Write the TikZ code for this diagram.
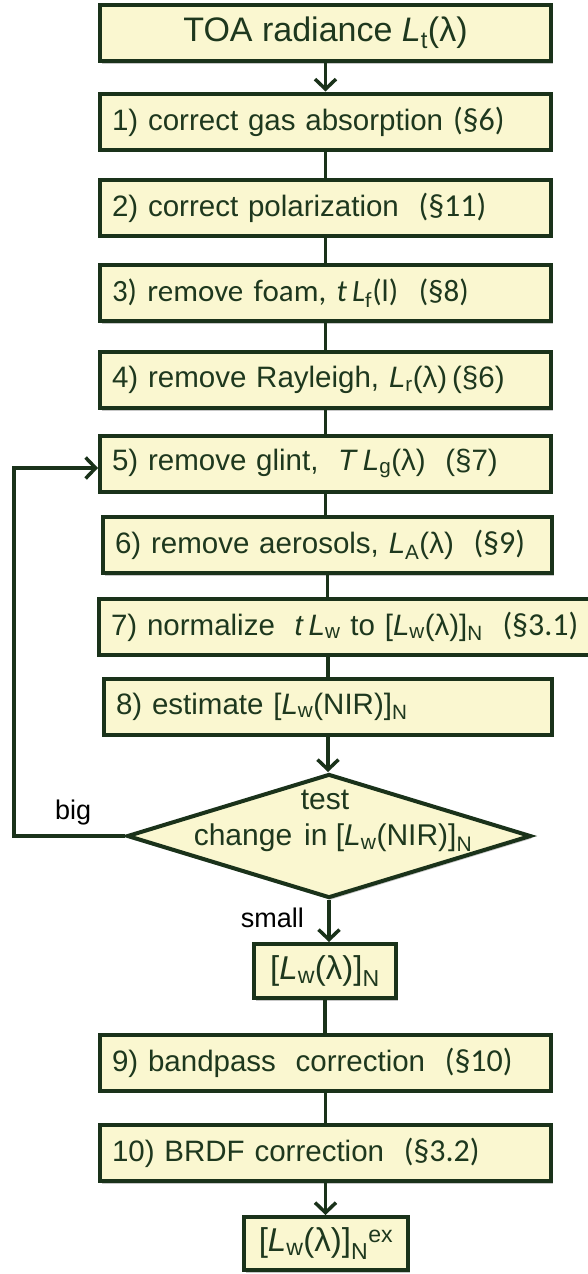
\documentclass[tikz,border=0pt]{standalone}
\usepackage{fontspec}
\setmainfont{Liberation Sans}
\newfontfamily\calfont{Carlito}
\usetikzlibrary{arrows.meta,shapes.geometric,shadows}
\definecolor{boxfill}{RGB}{250,247,208}
\definecolor{boxline}{RGB}{26,50,26}
\definecolor{txtc}{RGB}{30,56,30}
\newcommand{\sbs}[1]{\textsubscript{#1}}
\newcommand{\Li}{\textit{L}}
\newcommand{\secref}[1]{{\calfont\fontsize{32}{36}\selectfont #1}}
\begin{document}
\begin{tikzpicture}[x=1pt,y=-1pt,
  shade/.style={drop shadow={shadow xshift=1.5pt,shadow yshift=-2.5pt,opacity=0.22,fill=black}},
  basebox/.style={draw=boxline,line width=4pt,fill=boxfill,text=txtc,shade,
    inner xsep=12pt,inner ysep=0pt,font=\fontsize{29.5}{34}\selectfont},
  wbox/.style={basebox,minimum height=56pt,text width=#1,align=left},
  cbox/.style={basebox,minimum width=#1,minimum height=54pt,inner xsep=0pt,
    font=\fontsize{33}{38}\selectfont},
  dtext/.style={text=txtc,inner sep=0pt,font=\fontsize{30}{35}\selectfont},
  lab/.style={text=black,inner sep=0pt,font=\fontsize{27}{31}\selectfont},
  conn/.style={draw=boxline,line width=3.5pt},
  arr/.style={conn,-{Straight Barb[length=10pt,width=21pt]}}
]
\useasboundingbox (0,0) rectangle (587,1274);
\fill[white] (0,0) rectangle (587,1274);

\node[basebox,minimum width=451pt,minimum height=56pt,inner xsep=0pt,
  font=\fontsize{34}{40}\selectfont] (toa) at (325.5,33)
  {TOA radiance \Li\sbs{t}(λ)};
\node[wbox=427pt] (b1) at (325.5,121.5) {1) correct gas\ absorption \secref{(§6)}};
\node[wbox=427pt] (b2) at (325.5,207.5) {2) correct polarization\ \ \secref{(§11)}};
\node[wbox=427pt,font=\calfont\fontsize{31}{35}\selectfont] (b3) at (325.5,293)
  {3) remove foam, \textit{t}\,\Li\sbs{f}(l)\ \ (§8)};
\node[wbox=427pt] (b4) at (325.5,380) {4) remove Rayleigh, \Li\sbs{r}(λ)\,(§6)};
\node[wbox=427pt] (b5) at (325.5,463.5) {5) remove glint,\ \ \textit{T}\,\Li\sbs{g}(λ)\ \ (§7)};
\node[wbox=425pt] (b6) at (327.5,545) {6) remove aerosols, \Li\sbs{A}(λ)\ \ \secref{(§9)}};
\node[wbox=505pt] (b7) at (363.5,626.5)
  {7) normalize\ \ \textit{t}\,\Li\sbs{w} to [\Li\sbs{w}(λ)]\sbs{N}\ \ \secref{(§3.1)}};
\node[wbox=424pt] (b8) at (328,706.5) {8) estimate [\Li\sbs{w}(NIR)]\sbs{N}};

\node[diamond,draw=boxline,line width=4pt,fill=boxfill,shade,inner sep=0pt,
  minimum width=404pt,minimum height=124pt] (dia) at (329,836) {};
\node[dtext] (dtest) at (325,800) {test};
\node[dtext] (dchange) at (333,838) {change\hspace{0.4em}in [\Li\sbs{w}(NIR)]\sbs{N}};

\node[cbox=142pt] (small) at (325,971) {[\Li\sbs{w}(λ)]\sbs{N}};
\node[wbox=427pt] (b9) at (325.5,1062.5) {9) bandpass\ \ correction\ \ \secref{(§10)}};
\node[wbox=427pt] (b10) at (325.5,1153) {10) BRDF correction\ \ \secref{(§3.2)}};
\node[cbox=164pt,minimum height=53pt] (fin) at (326,1243.5)
  {[\Li\sbs{w}(λ)]\sbs{N}\textsuperscript{ex}};

\node[lab,anchor=base west] (big) at (55,819) {big};
\node[lab,anchor=base east] (smalllab) at (304,927) {small};

\coordinate (loopb) at (14,836);
\coordinate (loopt) at (14,468);

\draw[arr] (toa) -- (b1);
\draw[conn] (b1) -- (b2);
\draw[conn] (b2) -- (b3);
\draw[conn] (b3) -- (b4);
\draw[conn] (b4) -- (b5);
\draw[conn] (b5.south) -- (b5.south |- b6.north);
\draw[conn] (b6.south) -- (b6.south |- b7.north);
\draw[conn] (b8.north |- b7.south) -- (b8.north);
\draw[arr] (b8.south) -- (b8.south |- dia.north);
\draw[arr] (dia.south) -- (dia.south |- small.north);
\draw[conn] (small) -- (small.south |- b9.north);
\draw[conn] (b9) -- (b10);
\draw[arr] (b10.south) -- (b10.south |- fin.north);
\draw[arr,line join=miter] (dia.west) -- (loopb) -- (loopt) -- (loopt -| b5.west);
\end{tikzpicture}
\end{document}
